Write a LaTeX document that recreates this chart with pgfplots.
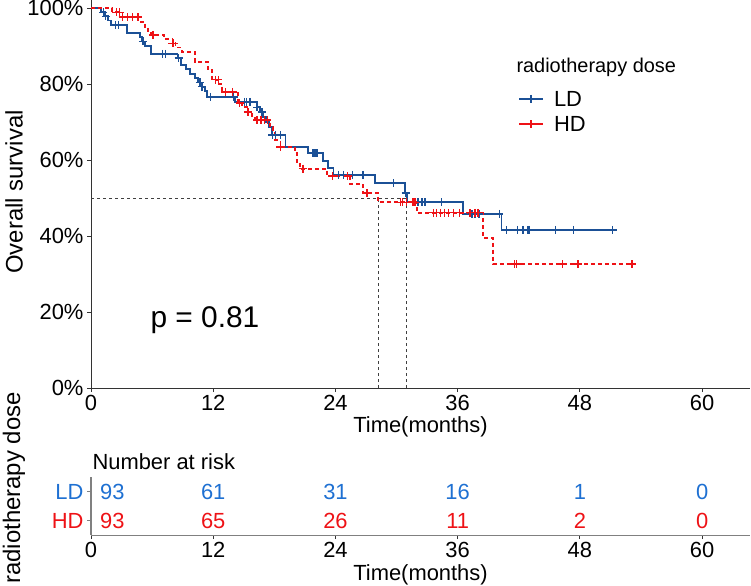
\documentclass[border=0pt]{standalone}
\usepackage{fontspec}
\setmainfont{Liberation Sans}
\usepackage{pgfplots}
\usepackage{pgfplotstable}
\pgfplotsset{compat=1.18}

\definecolor{ldblue}{RGB}{27,80,150}
\definecolor{ldtext}{RGB}{30,112,210}
\definecolor{hdred}{RGB}{238,18,22}
\newcommand{\fs}[1]{\fontsize{#1}{#1}\selectfont}

% Kaplan-Meier step data (months, survival %)
\pgfplotstableread{
t s
0 100
1.0 98.9
1.4 97.8
1.7 96.7
2.0 95.5
3.5 93.4
4.8 92.3
5.0 91.2
5.3 90.0
5.9 87.9
8.5 86.8
8.8 84.9
9.3 83.9
9.7 82.7
10.2 81.6
10.5 80.4
10.9 79.3
11.2 78.1
11.4 76.6
14.1 75.3
16.3 73.9
16.6 72.6
16.9 71.3
17.2 70.0
17.5 68.7
17.8 66.6
19.1 63.4
21.3 61.8
22.8 59.7
23.3 57.9
23.8 56.1
27.9 53.9
30.85 51.3
31.0 48.9
36.5 45.8
40.3 41.6
51.3 41.6
}\ldcurve
\pgfplotstableread{
t s
1.2 98.9
1.45 97.8
2.4 95.5
2.7 95.5
5.1 91.2
7.0 87.9
7.3 87.9
8.6 86.8
10.7 80.4
10.9 79.3
11.7 76.6
14.0 76.6
15.1 75.3
15.3 75.3
15.6 75.3
16.3 73.9
16.8 72.6
17.8 66.6
18.1 66.6
18.6 66.6
21.8 61.8
22.0 61.8
22.2 61.8
24.3 56.1
24.8 56.1
25.7 56.1
26.7 56.1
29.7 53.9
30.9 51.3
32.1 48.9
32.5 48.9
32.8 48.9
34.4 48.9
37.4 45.8
37.7 45.8
38.1 45.8
40.1 45.8
40.8 41.6
41.9 41.6
42.4 41.6
42.9 41.6
43.0 41.6
45.6 41.6
47.4 41.6
51.2 41.6
}\ldcens
\pgfplotstableread{
t s
0 100
2.1 98.9
2.8 97.6
4.9 96.3
5.3 95.0
5.6 93.9
5.9 92.9
7.2 91.8
8.0 90.7
8.3 89.6
8.9 88.4
10.2 85.8
11.5 83.7
11.9 81.1
12.6 79.9
12.9 77.9
14.4 75.0
14.8 73.9
15.4 72.6
15.8 71.6
16.1 70.5
17.6 68.7
17.9 67.0
18.1 65.3
18.6 63.4
20.0 61.8
20.2 59.5
20.5 57.7
23.2 55.8
25.4 53.7
26.7 51.3
28.2 48.9
32.0 46.1
38.5 39.5
39.5 32.6
53.1 32.6
}\hdcurve
\pgfplotstableread{
t s
2.5 98.9
2.8 98.9
3.1 97.6
3.6 97.6
4.1 97.6
4.6 97.6
6.1 92.9
8.0 90.7
8.1 90.7
12.2 81.1
12.5 81.1
13.2 77.9
13.9 77.9
14.6 75.0
15.4 72.6
16.3 70.5
16.7 70.5
17.0 70.5
17.3 70.5
18.6 63.4
20.8 57.7
23.7 55.8
25.2 55.8
27.1 51.3
30.4 48.9
30.6 48.9
31.0 48.9
31.6 48.9
31.8 48.9
33.6 46.1
33.9 46.1
34.3 46.1
34.7 46.1
35.1 46.1
35.6 46.1
36.2 46.1
37.2 46.1
37.7 46.1
38.0 46.1
41.6 32.6
41.8 32.6
46.3 32.6
47.8 32.6
53.1 32.6
}\hdcens

% Number at risk (row 2 = LD, row 1 = HD)
\pgfplotstableread{
t r n
2.1 2 93
12 2 61
24 2 31
36 2 16
48 2 1
60 2 0
}\ldrisk
\pgfplotstableread{
t r n
2.1 1 93
12 1 65
24 1 26
36 1 11
48 1 2
60 1 0
}\hdrisk

\begin{document}
\begin{tikzpicture}
\path[use as bounding box] (0bp,0bp) rectangle (751bp,-586bp);
\pgfplotsset{
  kmbase/.style={
    scale only axis, width=659bp,
    xmin=0, xmax=64.7,
    axis lines=left,
    axis line style={-, line width=0.9bp, black!80},
    xtick={0,12,...,60},
    tick align=outside, major tick length=4bp,
    tick style={line width=0.9bp, black!80},
    ticklabel style={font=\fs{22}},
    /pgf/number format/assume math mode=true,
    xlabel={Time(months)},
    xlabel style={font=\fs{22}, anchor=center},
  },
}
\begin{axis}[kmbase,
  at={(91bp,-388bp)}, anchor=south west,
  height=388bp, ymin=0, ymax=102.1,
  ytick={0,20,...,100},
  yticklabels={0\%,20\%,40\%,60\%,80\%,100\%},
  xlabel style={at={(axis description cs:0.5,-0.101)}},
  legend style={draw=none, fill=none, font=\fs{22},
    at={(axis description cs:0.648,0.765)}, anchor=north west,
    inner sep=0pt, row sep=10bp,
    nodes={inner sep=0pt, text depth=0pt}},
  legend cell align=left,
  legend image code/.code={%
    \draw[#1, solid, mark repeat=2, mark phase=2]
      plot coordinates {(0bp,0bp) (12bp,0bp) (24bp,0bp)};},
]
% median survival guides
\addplot[black!75, line width=0.7bp, dash pattern=on 3bp off 3bp, forget plot]
  coordinates {(0,50) (31.0,50)};
\addplot[black!75, line width=0.7bp, dash pattern=on 3bp off 3bp, forget plot]
  coordinates {(28.2,0) (28.2,50)};
\addplot[black!75, line width=0.7bp, dash pattern=on 3bp off 3bp, forget plot]
  coordinates {(31.0,0) (31.0,50)};
% survival curves
\addplot[ldblue, line width=1.8bp, const plot, forget plot] table[x=t,y=s] {\ldcurve};
\addplot[hdred, line width=1.8bp, const plot, dash pattern=on 4bp off 3bp, forget plot] table[x=t,y=s] {\hdcurve};
% censoring marks
\addplot[only marks, mark=+, mark size=4bp, ldblue, mark options={line width=1.3bp}, forget plot] table[x=t,y=s] {\ldcens};
\addplot[only marks, mark=+, mark size=4bp, hdred, mark options={line width=1.3bp}, forget plot] table[x=t,y=s] {\hdcens};
\addlegendimage{ldblue, line width=1.8bp, mark=+, mark size=4bp, mark options={line width=1.3bp}}
\addlegendentry{\hspace{10bp}LD}
\addlegendimage{hdred, line width=1.8bp, mark=+, mark size=4bp, mark options={line width=1.3bp}}
\addlegendentry{\hspace{10bp}HD}
\node[anchor=west, font=\fs{30}] at (axis cs:5.5,17.9) {p = 0.81};
\end{axis}

\begin{axis}[kmbase,
  at={(91bp,-535bp)}, anchor=south west,
  height=58bp, ymin=0.5, ymax=2.5,
  axis line style={-, line width=1bp, black!50},
  y axis line style={line width=1.3bp},
  ytick={1,2},
  ytick style={black!50},
  yticklabels={\textcolor{hdred}{HD},\textcolor{ldtext}{LD}},
  xlabel style={at={(axis description cs:0.5,-0.69)}},
]
\addplot[ldtext, only marks, mark=none, nodes near coords, point meta=explicit symbolic,
  nodes near coords style={font=\fs{22}, anchor=center, text=ldtext}]
  table[x=t, y=r, meta=n] {\ldrisk};
\addplot[hdred, only marks, mark=none, nodes near coords, point meta=explicit symbolic,
  nodes near coords style={font=\fs{22}, anchor=center, text=hdred}]
  table[x=t, y=r, meta=n] {\hdrisk};
\end{axis}

\node[anchor=west, font=\fs{20}] at (513bp,-67bp) {radiotherapy dose};
\node[anchor=west, font=\fs{22}] at (89bp,-462bp) {Number at risk};
\node[rotate=90, font=\fs{24}] at (14bp,-192bp) {Overall survival};
\node[rotate=90, font=\fs{24}] at (14bp,-488bp) {radiotherapy dose};
\end{tikzpicture}
\end{document}
